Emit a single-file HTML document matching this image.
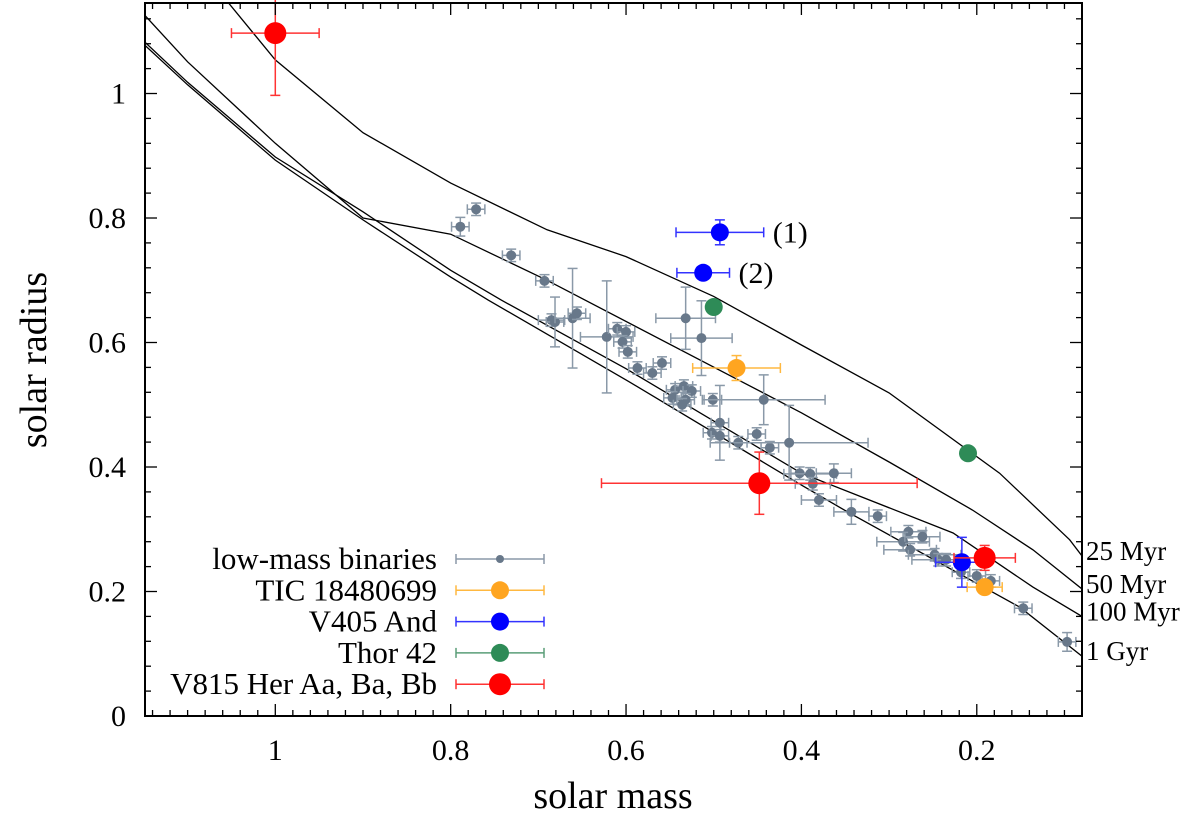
<!DOCTYPE html>
<html><head><meta charset="utf-8"><style>
html,body{margin:0;padding:0;background:#fff}
svg text{font-family:"Liberation Serif",serif;fill:#000}
</style></head><body>
<svg id="chart" width="1200" height="813" xmlns="http://www.w3.org/2000/svg">
<g id="iso"></g>
<g id="pts"></g>
<rect x="145" y="3" width="937" height="713" fill="none" stroke="#000" stroke-width="2"/>
<g id="ticks"></g>
<text x="613" y="808" font-size="38" text-anchor="middle">solar mass</text>
<text transform="translate(46,360) rotate(-90)" font-size="38" text-anchor="middle">solar radius</text>
<g id="legend"></g>
</svg>
<script>
const xTicks=[1,0.8,0.6,0.4,0.2];
const yTicks=[0,0.2,0.4,0.6,0.8,1];
const isoNames=["25 Myr","50 Myr","100 Myr","1 Gyr"];
const iso25M=[1.056,1.0,0.9,0.8,0.69,0.6,0.5,0.4,0.3,0.174,0.094,0.08];
const iso25R=[1.15,1.054,0.937,0.856,0.781,0.738,0.674,0.596,0.519,0.390,0.283,0.257];
const iso50M=[1.149,1.1,1.0,0.9,0.8,0.69,0.4,0.3,0.205,0.136,0.08];
const iso50R=[1.126,1.051,0.92,0.80,0.774,0.70,0.487,0.408,0.331,0.267,0.204];
const iso100M=[1.149,1.1,1.0,0.9,0.8,0.742,0.6,0.4,0.227,0.136,0.08];
const iso100R=[1.083,1.018,0.898,0.81,0.716,0.668,0.558,0.390,0.294,0.207,0.160];
const iso1GM=[1.149,1.1,1.0,0.9,0.8,0.757,0.6,0.4,0.345,0.151,0.08];
const iso1GR=[1.078,1.014,0.893,0.797,0.705,0.668,0.54,0.371,0.326,0.175,0.096];
const binM=[0.771,0.789,0.731,0.693,0.685,0.681,0.661,0.656,0.622,0.610,0.600,0.604,0.598,0.587,0.570,0.559,0.532,0.514,0.544,0.547,0.534,0.525,0.532,0.536,0.501,0.443,0.493,0.502,0.493,0.472,0.451,0.436,0.414,0.402,0.390,0.363,0.387,0.380,0.343,0.313,0.278,0.284,0.262,0.276,0.248,0.244,0.235,0.218,0.200,0.184,0.147,0.097];
const binR=[0.814,0.786,0.740,0.699,0.636,0.633,0.639,0.647,0.609,0.622,0.617,0.601,0.585,0.559,0.551,0.567,0.639,0.607,0.524,0.511,0.530,0.522,0.508,0.500,0.508,0.508,0.471,0.455,0.450,0.439,0.453,0.431,0.439,0.390,0.389,0.390,0.373,0.347,0.328,0.321,0.296,0.280,0.288,0.267,0.259,0.251,0.251,0.231,0.225,0.217,0.173,0.119];
const binEM=[0.01,0.01,0.01,0.01,0.015,0.01,0.02,0.01,0.03,0.01,0.01,0.01,0.01,0.01,0.01,0.01,0.034,0.035,0.01,0.01,0.01,0.01,0.01,0.01,0.01,0.07,0.01,0.01,0.01,0.01,0.01,0.01,0.09,0.01,0.03,0.02,0.02,0.02,0.02,0.01,0.02,0.03,0.02,0.03,0.03,0.03,0.01,0.01,0.01,0.01,0.01,0.01];
const binER=[0.01,0.015,0.01,0.01,0.01,0.04,0.08,0.01,0.09,0.01,0.01,0.01,0.01,0.01,0.01,0.01,0.05,0.06,0.01,0.01,0.01,0.01,0.01,0.01,0.01,0.04,0.06,0.01,0.01,0.01,0.01,0.01,0.06,0.01,0.01,0.015,0.01,0.01,0.02,0.01,0.01,0.015,0.01,0.01,0.01,0.01,0.01,0.01,0.01,0.01,0.01,0.015];
const ticM=[0.474,0.191], ticR=[0.559,0.207], ticEM=[0.05,0.02], ticER=[0.02,0.01];
const v405M=[0.493,0.512,0.217], v405R=[0.777,0.712,0.247], v405EM=[0.05,0.03,0.03], v405ER=[0.02,0.0,0.04];
const thorM=[0.500,0.210], thorR=[0.657,0.422];
const v815M=[1.0,0.448,0.191], v815R=[1.097,0.374,0.254], v815EM=[0.05,0.18,0.035], v815ER=[0.1,0.05,0.02];

const X0=145,X1=1082,Y0=716,Y1=3,MMAX=1.1486,MMIN=0.08,RMIN=0,RMAX=1.1454;
const xs=m=>X0+(MMAX-m)/(MMAX-MMIN)*(X1-X0);
const ys=r=>Y0-(r-RMIN)/(RMAX-RMIN)*(Y0-Y1);
const NS="http://www.w3.org/2000/svg";
function mk(tag,attrs,parent){const e=document.createElementNS(NS,tag);for(const k in attrs)e.setAttribute(k,attrs[k]);parent.appendChild(e);return e;}
const clip=mk('clipPath',{id:'pc'},document.getElementById('chart'));
mk('rect',{x:X0,y:Y1,width:X1-X0,height:Y0-Y1},clip);

const tg=document.getElementById('ticks');
for(let v=0.08;v<=1.15;v+=0.02){const vv=Math.round(v*100)/100;const x=xs(vv);const major=Math.round(vv*100)%20==0;const L=major?12:6;
 const t=mk('line',{x1:x,x2:x,y1:Y0,y2:Y0-L,stroke:'#000','stroke-width':1.3},tg);
 const t2=mk('line',{x1:x,x2:x,y1:Y1,y2:Y1+L,stroke:'#000','stroke-width':1.3},tg);}
for(let v=0;v<=1.14;v+=0.04){const vv=Math.round(v*100)/100;const y=ys(vv);const major=Math.round(vv*100)%20==0;const L=major?12:6;
 const t=mk('line',{x1:X0,x2:X0+L,y1:y,y2:y,stroke:'#000','stroke-width':1.3},tg);
 const t2=mk('line',{x1:X1,x2:X1-L,y1:y,y2:y,stroke:'#000','stroke-width':1.3},tg);}
xTicks.forEach(v=>{const t=mk('text',{x:xs(v),y:760,'font-size':30,'text-anchor':'middle'},tg);t.textContent=String(v);
 });
yTicks.forEach(v=>{const t=mk('text',{x:126,y:ys(v)+10,'font-size':30,'text-anchor':'end'},tg);t.textContent=String(v);
 });

const ig=document.getElementById('iso');ig.setAttribute('clip-path','url(#pc)');
const isoSets=[[iso25M,iso25R],[iso50M,iso50R],[iso100M,iso100R],[iso1GM,iso1GR]];
isoSets.forEach((s,i)=>{const d=s[0].map((m,j)=>(j?'L':'M')+xs(m).toFixed(1)+','+ys(s[1][j]).toFixed(1)).join('');
 const p=mk('path',{d:d,fill:'none',stroke:'#000','stroke-width':1.3},ig);
 
 const r=s[1][s[1].length-1];
 const t=mk('text',{x:1086,y:ys(r)+4,'font-size':27},document.getElementById('chart'));t.textContent=isoNames[i];
 });

const pg=document.getElementById('pts');
function point(m,r,em,er,col,ecol,rad,name){const g=mk('g',{},pg);
 const x=xs(m),y=ys(r),c=5;
 if(em>0){const xa=xs(m+em),xb=xs(m-em);mk('line',{x1:xa,x2:xb,y1:y,y2:y,stroke:ecol,'stroke-width':1.5},g);
  mk('line',{x1:xa,x2:xa,y1:y-c,y2:y+c,stroke:ecol,'stroke-width':1.5},g);mk('line',{x1:xb,x2:xb,y1:y-c,y2:y+c,stroke:ecol,'stroke-width':1.5},g);}
 if(er>0){const ya=ys(r+er),yb=ys(r-er);mk('line',{x1:x,x2:x,y1:ya,y2:yb,stroke:ecol,'stroke-width':1.5},g);
  mk('line',{x1:x-c,x2:x+c,y1:ya,y2:ya,stroke:ecol,'stroke-width':1.5},g);mk('line',{x1:x-c,x2:x+c,y1:yb,y2:yb,stroke:ecol,'stroke-width':1.5},g);}
 mk('circle',{cx:x,cy:y,r:rad,fill:col},g);}
binM.forEach((m,i)=>point(m,binR[i],binEM[i],binER[i],'#68788a','#8a99a8',5,'binary-point'));
ticM.forEach((m,i)=>point(m,ticR[i],ticEM[i],ticER[i],'#ffa520','#ffb840',9,'tic-point'));
v405M.forEach((m,i)=>point(m,v405R[i],v405EM[i],v405ER[i],'#0000ff','#3333ff',9,'v405-point'));
thorM.forEach((m,i)=>point(m,thorR[i],0,0,'#2e8b57','#2e8b57',9,'thor42-point'));
v815M.forEach((m,i)=>point(m,v815R[i],v815EM[i],v815ER[i],'#ff0000','#ff3333',11,'v815-point'));
[['(1)',0],['(2)',1]].forEach(a=>{const k=a[1];const t=mk('text',{x:xs(v405M[k]-v405EM[k])+9,y:ys(v405R[k])+10,'font-size':30},pg);t.textContent=a[0];
 });

const lg=document.getElementById('legend');
const legN=['low-mass binaries','TIC 18480699','V405 And','Thor 42','V815 Her Aa, Ba, Bb'];
const legC=['#68788a','#ffa520','#0000ff','#2e8b57','#ff0000'];const legE=['#8a99a8','#ffb840','#3333ff','#5a9e78','#ff3333'];const legR=[4,9,9,9,11];
legN.forEach((n,i)=>{const y=559+i*31.3;const g=mk('g',{},lg);
 const t=mk('text',{x:437,y:y+10,'font-size':31,'text-anchor':'end'},g);t.textContent=n;
 mk('line',{x1:456,x2:544,y1:y,y2:y,stroke:legE[i],'stroke-width':1.5},g);
 mk('line',{x1:456,x2:456,y1:y-5,y2:y+5,stroke:legE[i],'stroke-width':1.5},g);mk('line',{x1:544,x2:544,y1:y-5,y2:y+5,stroke:legE[i],'stroke-width':1.5},g);
 mk('circle',{cx:500,cy:y,r:legR[i],fill:legC[i]},g);});
</script>
</body></html>
